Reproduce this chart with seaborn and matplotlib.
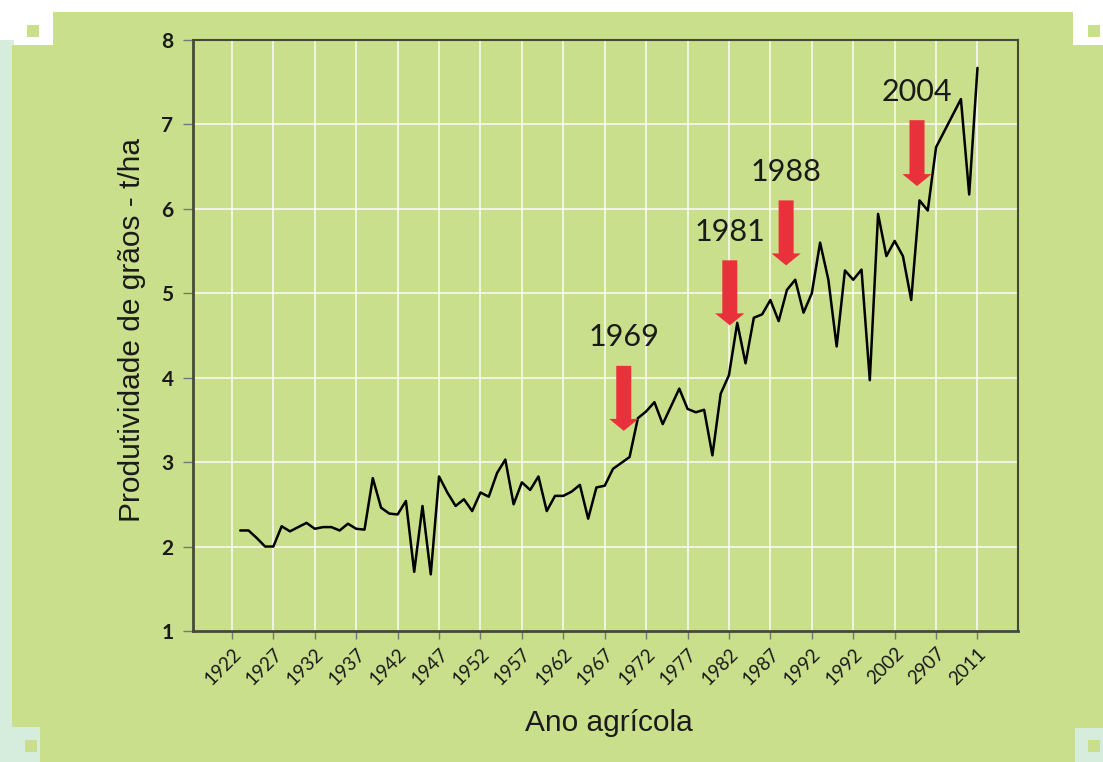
import seaborn as sns
import matplotlib.pyplot as plt
from matplotlib.patches import Rectangle

# produtividade de grãos (t/ha) por ano agrícola
anos = list(range(1923, 2013))
produtividade = [
    2.19, 2.19, 2.10, 2.00, 2.00, 2.24, 2.18, 2.23, 2.28, 2.21,
    2.23, 2.23, 2.19, 2.27, 2.21, 2.20, 2.81, 2.46, 2.39, 2.38,
    2.54, 1.70, 2.48, 1.67, 2.83, 2.64, 2.48, 2.56, 2.42, 2.64,
    2.59, 2.87, 3.03, 2.50, 2.76, 2.67, 2.83, 2.42, 2.60, 2.60,
    2.65, 2.73, 2.33, 2.70, 2.72, 2.92, 2.99, 3.06, 3.52, 3.60,
    3.71, 3.45, 3.66, 3.87, 3.63, 3.59, 3.62, 3.08, 3.81, 4.03,
    4.65, 4.17, 4.71, 4.75, 4.92, 4.67, 5.04, 5.16, 4.77, 5.00,
    5.60, 5.16, 4.37, 5.27, 5.16, 5.28, 3.97, 5.94, 5.44, 5.62,
    5.44, 4.92, 6.10, 5.98, 6.73, 6.92, 7.11, 7.30, 6.17, 7.67,
]
tick_anos = list(range(1922, 2013, 5))
tick_labels = ["1922", "1927", "1932", "1937", "1942", "1947", "1952",
               "1957", "1962", "1967", "1972", "1977", "1982", "1987",
               "1992", "1992", "2002", "2907", "2011"]
y_ticks = [1, 2, 3, 4, 5, 6, 7, 8]
marcos = ["1969", "1981", "1988", "2004"]

sns.set_theme(style="whitegrid")
plt.rcParams['font.family'] = ['Liberation Sans', 'DejaVu Sans']

verde = "#C9DF8B"
ciano = "#D6ECDD"
vermelho = "#E8313A"

fig = plt.figure(figsize=(11.03, 7.62), dpi=100, facecolor="white")

# fundo decorativo (coordenadas em pixels)
def bloco(x0, y0, x1, y1, cor):
    fig.add_artist(Rectangle((x0 / 1103, 1 - y1 / 762), (x1 - x0) / 1103, (y1 - y0) / 762,
                             transform=fig.transFigure, facecolor=cor,
                             edgecolor="none", zorder=-5))

bloco(0, 40, 14, 762, ciano)
bloco(12, 45, 1103, 762, verde)
bloco(53, 12, 1073, 46, verde)
bloco(27, 25, 39, 37, verde)
bloco(1088, 25, 1100, 37, verde)
bloco(0, 727, 40, 762, ciano)
bloco(25, 740, 37, 752, verde)
bloco(1075, 728, 1103, 762, ciano)
bloco(1088, 740, 1100, 752, verde)

ax = fig.add_axes([0.175, 0.172, 0.748, 0.7755])
ax.set_facecolor(verde)

sns.lineplot(x=anos, y=produtividade, color="black", lw=1.8, ax=ax)

# setas vermelhas
seta_x = [1969.3, 1982.1, 1988.9, 2004.7]
seta_topo = [4.14, 5.39, 6.10, 7.05]
seta_ponta = [3.37, 4.62, 5.33, 6.27]
for rotulo, x, topo, ponta in zip(marcos, seta_x, seta_topo, seta_ponta):
    ax.annotate("", xy=(x, ponta), xytext=(x, topo),
                arrowprops=dict(arrowstyle="simple,head_length=0.43,head_width=1.05,tail_width=0.54",
                                mutation_scale=20, fc=vermelho, ec="none", lw=0,
                                shrinkA=0, shrinkB=0))
    ax.annotate(rotulo, xy=(x, topo), xytext=(0, 14), textcoords="offset points",
                ha="center", va="baseline", fontsize=22, family="Lato", color="#1a1a1a")

ax.set_xlim(1917.3, 2016.9)
ax.set_ylim(1, 8)
ax.tick_params(axis="y", left=True, length=7, width=1, color="#777777", pad=7,
               labelcolor="#1a1a1a", labelsize=15)
ax.tick_params(axis="x", bottom=True, length=6, width=1, color="#777777", pad=4,
               labelcolor="#1a1a1a", labelsize=13.5)
ax.set_yticks(y_ticks, labels=[str(v) for v in y_ticks], fontweight="bold", family="Lato")
ax.set_xticks(tick_anos, labels=tick_labels, rotation=45, ha="right", va="top",
              rotation_mode="anchor", family="Lato")

ax.grid(True, color="white", lw=1.2, alpha=0.85)
for s in ax.spines.values():
    s.set_visible(True)
    s.set_color("#45493a")
    s.set_linewidth(1.5)
ax.spines["left"].set_linewidth(2)
ax.spines["bottom"].set_linewidth(2)

ax.set_ylabel("Produtividade de grãos - t/ha", fontsize=21.5, color="#1a1a1a")
ax.set_xlabel("Ano agrícola", fontsize=21.5, color="#1a1a1a")
ax.yaxis.set_label_coords(-0.057, 0.51)
ax.xaxis.set_label_coords(0.504, -0.132)

fig.savefig("out.png", dpi=100, facecolor=fig.get_facecolor())
